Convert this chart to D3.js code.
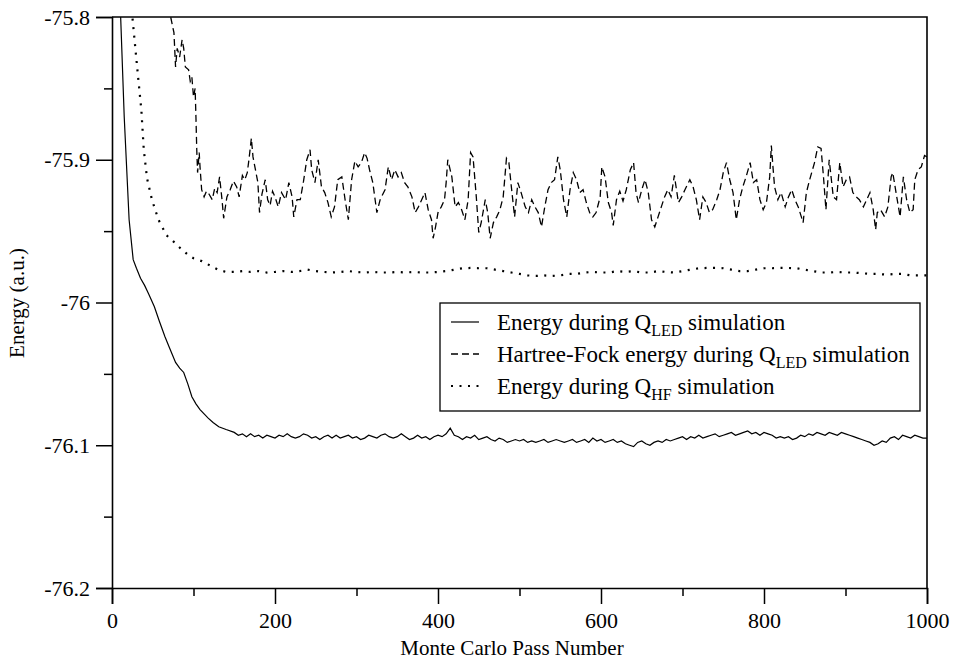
<!DOCTYPE html>
<html>
<head>
<meta charset="utf-8">
<script src="https://cdn.jsdelivr.net/npm/d3@7"></script>
<style>
  body { margin: 0; background: #fff; }
  svg text { font-family: "Liberation Serif", "Times New Roman", serif; fill: #000; }
</style>
</head>
<body>
<svg id="main-svg" width="956" height="660"></svg>
<script>
// Energy during Q_LED simulation (solid)
var passLED = [0, 5, 10, 15, 21, 26, 30, 35, 40, 45, 52, 58, 65, 70, 78, 83, 88, 93, 98, 103, 108, 113, 118, 124, 131, 140,
  150, 155, 160, 165, 170, 175, 180, 185, 190, 195, 200, 205, 210, 215, 220, 225, 230, 235, 240, 245,
  250, 255, 260, 265, 270, 275, 280, 285, 290, 295, 300, 305, 310, 315, 320, 325, 330, 335, 340, 345,
  350, 355, 360, 365, 370, 375, 380, 385, 390, 395, 400, 405, 410, 415, 420, 425, 430, 435, 440, 445,
  450, 455, 460, 465, 470, 475, 480, 485, 490, 495, 500, 505, 510, 515, 520, 525, 530, 535, 540, 545,
  550, 555, 560, 565, 570, 575, 580, 585, 590, 595, 600, 605, 610, 615, 620, 625, 630, 635, 640, 645,
  650, 655, 660, 665, 670, 675, 680, 685, 690, 695, 700, 705, 710, 715, 720, 725, 730, 735, 740, 745,
  750, 755, 760, 765, 770, 775, 780, 785, 790, 795, 800, 805, 810, 815, 820, 825, 830, 835, 840, 845,
  850, 855, 860, 865, 870, 875, 880, 885, 890, 895, 900, 905, 910, 915, 920, 925, 930, 935, 940, 945,
  950, 955, 960, 965, 970, 975, 980, 985, 990, 995, 1000];
var energyLED = [-75.40, -75.62, -75.79, -75.87, -75.942, -75.970, -75.976, -75.983, -75.988, -75.994, -76.003, -76.013, -76.024,
  -76.031, -76.042, -76.046, -76.049, -76.057, -76.066, -76.071, -76.075, -76.078, -76.081, -76.084, -76.087, -76.089,
  -76.091, -76.093, -76.092, -76.094, -76.092, -76.094, -76.093, -76.095, -76.093, -76.094, -76.095, -76.093, -76.094, -76.092,
  -76.094, -76.095, -76.094, -76.092, -76.093, -76.095,
  -76.094, -76.096, -76.094, -76.093, -76.095, -76.093, -76.095, -76.094, -76.093, -76.095, -76.094, -76.096, -76.095, -76.093,
  -76.094, -76.095, -76.093, -76.092, -76.094, -76.095,
  -76.094, -76.092, -76.094, -76.096, -76.095, -76.093, -76.095, -76.094, -76.096, -76.094, -76.093, -76.094, -76.092, -76.088,
  -76.093, -76.094, -76.096, -76.094, -76.095, -76.093,
  -76.096, -76.095, -76.094, -76.096, -76.097, -76.095, -76.096, -76.098, -76.097, -76.096, -76.097, -76.096, -76.098, -76.097,
  -76.098, -76.097, -76.096, -76.098, -76.097, -76.096,
  -76.097, -76.098, -76.097, -76.096, -76.098, -76.097, -76.096, -76.098, -76.095, -76.097, -76.096, -76.098, -76.097, -76.096,
  -76.098, -76.097, -76.099, -76.100, -76.101, -76.098,
  -76.097, -76.099, -76.100, -76.098, -76.097, -76.098, -76.096, -76.097, -76.096, -76.095, -76.094, -76.096, -76.094, -76.095,
  -76.093, -76.095, -76.094, -76.093, -76.092, -76.094,
  -76.093, -76.092, -76.091, -76.093, -76.092, -76.091, -76.090, -76.092, -76.091, -76.093, -76.091, -76.092, -76.093, -76.095,
  -76.094, -76.095, -76.094, -76.096, -76.095, -76.093,
  -76.094, -76.092, -76.093, -76.091, -76.092, -76.093, -76.091, -76.092, -76.093, -76.091, -76.092, -76.093, -76.094, -76.095,
  -76.096, -76.097, -76.098, -76.100, -76.099, -76.097,
  -76.098, -76.095, -76.094, -76.096, -76.093, -76.094, -76.095, -76.093, -76.094, -76.095, -76.095];

// Hartree-Fock energy during Q_LED simulation (dashed)
var passHFLED = [0, 40, 60, 68, 72, 76, 78, 80, 83, 86, 88, 90, 94, 96, 98, 100, 102, 103, 104, 105, 107, 108, 110, 113, 116, 119,
  123, 126, 129, 132, 135, 137, 141, 145, 149, 153, 156, 160, 163, 166, 168, 171, 173, 176, 179, 181, 184, 188, 191, 194, 197,
  200, 204, 208, 213, 217, 221, 223, 227, 231, 235, 239, 243, 245, 249, 253, 257, 261, 265, 269, 273, 277, 282, 286, 290, 294,
  298, 302, 306, 310, 313, 316, 320, 325, 329, 335, 339, 343, 347, 351, 355, 359, 363, 368, 372, 376, 380, 384, 388, 392, 394,
  397, 400, 404, 408, 410, 412, 417, 421, 425, 429, 433, 437, 440, 443, 447, 450, 453, 458, 461, 464, 468, 472, 476, 480, 484,
  487, 490, 494, 498, 502, 507, 511, 515, 519, 523, 527, 531, 535, 539, 543, 547, 550, 554, 558, 562, 566, 570, 574, 578, 582,
  586, 590, 594, 599, 601, 605, 609, 613, 615, 619, 623, 627, 631, 636, 640, 643, 646, 650, 654, 658, 662, 666, 670, 674, 678,
  682, 686, 690, 695, 699, 703, 709, 713, 717, 721, 725, 729, 733, 737, 742, 746, 750, 754, 758, 762, 766, 770, 774, 778, 783,
  787, 791, 795, 799, 803, 807, 809, 811, 813, 817, 821, 826, 830, 834, 838, 842, 848, 852, 856, 862, 866, 870, 873, 876, 880,
  885, 889, 893, 897, 901, 905, 909, 913, 917, 922, 926, 930, 934, 937, 939, 943, 948, 952, 956, 958, 962, 967, 971, 975, 979,
  983, 985, 989, 993, 997, 1000];
var hfLED = [-75.0, -75.5, -75.72, -75.790, -75.800, -75.811, -75.835, -75.822, -75.828, -75.816, -75.822, -75.835, -75.837,
  -75.845, -75.842, -75.856, -75.850, -75.870, -75.893, -75.909, -75.895, -75.905, -75.921, -75.926, -75.922, -75.924,
  -75.928, -75.920, -75.923, -75.912, -75.928, -75.941, -75.926, -75.921, -75.915, -75.919, -75.926, -75.911, -75.914, -75.909,
  -75.900, -75.885, -75.898, -75.907, -75.916, -75.937, -75.924, -75.914, -75.928, -75.932, -75.922,
  -75.926, -75.933, -75.923, -75.928, -75.916, -75.926, -75.940, -75.928, -75.928, -75.915, -75.900, -75.893, -75.907, -75.916,
  -75.900, -75.919, -75.923, -75.930, -75.940, -75.933, -75.914, -75.912, -75.928, -75.942, -75.914,
  -75.901, -75.905, -75.902, -75.895, -75.899, -75.907, -75.916, -75.937, -75.928, -75.921, -75.905, -75.914, -75.907, -75.912,
  -75.909, -75.916, -75.919, -75.926, -75.937, -75.933, -75.928, -75.923, -75.935, -75.942, -75.955,
  -75.947, -75.937, -75.933, -75.928, -75.916, -75.900, -75.912, -75.933, -75.930, -75.935, -75.942, -75.928, -75.895, -75.898,
  -75.926, -75.951, -75.944, -75.928, -75.937, -75.955, -75.944, -75.940, -75.935, -75.926, -75.899,
  -75.902, -75.919, -75.940, -75.916, -75.923, -75.933, -75.937, -75.928, -75.933, -75.937, -75.947, -75.933, -75.921, -75.916,
  -75.914, -75.898, -75.907, -75.928, -75.940, -75.921, -75.909, -75.914, -75.923, -75.921, -75.930,
  -75.937, -75.940, -75.937, -75.926, -75.905, -75.912, -75.930, -75.937, -75.946, -75.928, -75.922, -75.929, -75.921, -75.907,
  -75.902, -75.923, -75.930, -75.921, -75.914, -75.923, -75.942, -75.947, -75.940, -75.933, -75.926,
  -75.921, -75.926, -75.911, -75.930, -75.926, -75.921, -75.914, -75.919, -75.928, -75.942, -75.926, -75.930, -75.937, -75.935,
  -75.928, -75.921, -75.909, -75.902, -75.914, -75.923, -75.942, -75.928, -75.919, -75.912, -75.902,
  -75.916, -75.914, -75.928, -75.935, -75.930, -75.912, -75.890, -75.905, -75.919, -75.928, -75.923, -75.933, -75.926, -75.921,
  -75.928, -75.933, -75.944, -75.923, -75.914, -75.902, -75.891, -75.892, -75.912, -75.935, -75.900,
  -75.926, -75.928, -75.902, -75.919, -75.914, -75.912, -75.923, -75.926, -75.928, -75.933, -75.928, -75.923, -75.935, -75.949,
  -75.937, -75.935, -75.940, -75.933, -75.912, -75.909, -75.923, -75.940, -75.912, -75.928, -75.937,
  -75.935, -75.914, -75.907, -75.905, -75.897, -75.898];

// Energy during Q_HF simulation (dotted)
var passHF = [0, 10, 20, 25, 28, 32, 36, 39, 43, 49, 57, 67, 75, 82, 88, 94, 100, 110, 120, 130, 140, 150,
  160, 170, 180, 190, 200, 210, 220, 230, 240, 250, 260, 270, 280, 290, 300, 310, 320, 330, 340, 350, 360, 370, 380, 390,
  400, 410, 420, 430, 440, 450, 460, 470, 480, 490, 500, 510, 520, 530, 540, 550, 560, 570, 580, 590, 600, 610, 620, 630,
  640, 650, 660, 670, 680, 690, 700, 710, 720, 730, 740, 750, 760, 770, 780, 790, 800, 810, 820, 830, 840, 850, 860, 870,
  880, 890, 900, 910, 920, 930, 940, 950, 960, 970, 980, 990, 1000];
var energyHF = [-75.2, -75.55, -75.74, -75.800, -75.818, -75.842, -75.865, -75.893, -75.913, -75.928, -75.942, -75.953,
  -75.957, -75.961, -75.964, -75.967, -75.969, -75.971, -75.974, -75.977, -75.9786, -75.9786,
  -75.978, -75.9786, -75.978, -75.979, -75.9786, -75.978, -75.9786, -75.978, -75.977, -75.978, -75.9786, -75.979, -75.9786,
  -75.978, -75.9786, -75.979, -75.9786, -75.979, -75.979, -75.9786, -75.979, -75.9786, -75.979, -75.979,
  -75.9786, -75.978, -75.977, -75.976, -75.9758, -75.976, -75.976, -75.977, -75.978, -75.979, -75.980, -75.981, -75.9814,
  -75.981, -75.9814, -75.981, -75.980, -75.980, -75.979, -75.9786, -75.979, -75.979, -75.978, -75.9786,
  -75.978, -75.979, -75.979, -75.978, -75.9786, -75.979, -75.978, -75.977, -75.976, -75.9758, -75.9758, -75.976, -75.977,
  -75.978, -75.978, -75.977, -75.976, -75.976, -75.9758, -75.9758, -75.976, -75.977, -75.978, -75.979,
  -75.979, -75.9786, -75.979, -75.979, -75.9795, -75.980, -75.980, -75.9805, -75.980, -75.980, -75.981, -75.981, -75.981];

var xTicks = [0, 200, 400, 600, 800, 1000];
var xMinor = [100, 300, 500, 700, 900];
var yTicks = [-75.8, -75.9, -76, -76.1, -76.2];
var yMinor = [-75.85, -75.95, -76.05, -76.15];

var svg = d3.select('#main-svg');
var plotLeft = 112, plotRight = 927, plotTop = 17, plotBottom = 588;

var x = d3.scaleLinear().domain([0, 1000]).range([plotLeft, plotRight]);
var y = d3.scaleLinear().domain([-76.2, -75.8]).range([plotBottom, plotTop]);

svg.append('clipPath').attr('id', 'plot-clip')
  .append('rect').attr('x', plotLeft).attr('y', plotTop)
  .attr('width', plotRight - plotLeft).attr('height', plotBottom - plotTop);

function zip(px, vals) {
  return px.map(function(p, i) { return [p, vals[i]]; });
}

var line = d3.line().x(function(d) { return x(d[0]); }).y(function(d) { return y(d[1]); });
var lines = svg.append('g').attr('clip-path', 'url(#plot-clip)');

lines.append('path').datum(zip(passHF, energyHF))
  .attr('d', line).attr('fill', 'none').attr('stroke', '#000')
  .attr('stroke-width', 2.2).attr('stroke-dasharray', '2,6.5');
lines.append('path').datum(zip(passHFLED, hfLED))
  .attr('d', line).attr('fill', 'none').attr('stroke', '#000')
  .attr('stroke-width', 1.3).attr('stroke-dasharray', '7,4');
lines.append('path').datum(zip(passLED, energyLED))
  .attr('d', line).attr('fill', 'none').attr('stroke', '#000')
  .attr('stroke-width', 1.2);

// bottom axis with long major and short minor ticks
svg.append('g').attr('transform', 'translate(0,' + plotBottom + ')')
  .call(d3.axisBottom(x).tickValues(xTicks).tickSize(16).tickPadding(8).tickFormat(d3.format('d')));
svg.append('g').attr('transform', 'translate(0,' + plotBottom + ')')
  .call(d3.axisBottom(x).tickValues(xMinor).tickSize(8).tickFormat(''))
  .select('.domain').remove();

svg.append('g').attr('transform', 'translate(' + plotLeft + ',0)')
  .call(d3.axisLeft(y).tickValues(yTicks).tickSize(16).tickPadding(6).tickFormat(function(d) { return String(d); }));
svg.append('g').attr('transform', 'translate(' + plotLeft + ',0)')
  .call(d3.axisLeft(y).tickValues(yMinor).tickSize(8).tickFormat(''))
  .select('.domain').remove();

svg.selectAll('.domain').attr('stroke-width', 1.6);
svg.selectAll('.tick line').attr('stroke-width', 1.5);
svg.selectAll('.tick text').style('font-size', '22px').style('font-family', '"Liberation Serif", serif');

// closing frame on top and right
svg.append('path')
  .attr('d', 'M' + plotLeft + ',' + plotTop + 'H' + plotRight + 'V' + plotBottom)
  .attr('fill', 'none').attr('stroke', '#000').attr('stroke-width', 1.6);

svg.append('text').attr('x', 512).attr('y', 655).attr('text-anchor', 'middle')
  .style('font-size', '21px').text('Monte Carlo Pass Number');
svg.append('text').attr('transform', 'translate(24,303) rotate(-90)').attr('text-anchor', 'middle')
  .style('font-size', '21px').text('Energy (a.u.)');

// legend
var legendNames = [['Energy during Q', 'LED', ' simulation'],
  ['Hartree-Fock energy during Q', 'LED', ' simulation'],
  ['Energy during Q', 'HF', ' simulation']];
var legendDash = [null, '7,4', '2,6.5'];
var legendWidth = [1.2, 1.3, 2.2];

var legend = svg.append('g');
legend.append('rect').attr('x', 440).attr('y', 303).attr('width', 480).attr('height', 108)
  .attr('fill', '#fff').attr('stroke', '#000').attr('stroke-width', 1.3);

legendNames.forEach(function(name, i) {
  var cy = 322 + i * 32;
  legend.append('line').attr('x1', 451).attr('x2', 479).attr('y1', cy).attr('y2', cy)
    .attr('stroke', '#000').attr('stroke-width', legendWidth[i])
    .attr('stroke-dasharray', legendDash[i]);
  var t = legend.append('text').attr('x', 497).attr('y', cy + 8).style('font-size', '23px');
  t.append('tspan').text(name[0]);
  t.append('tspan').attr('dy', 6).style('font-size', '16px').text(name[1]);
  t.append('tspan').attr('dy', -6).text(name[2]);
});
</script>
</body>
</html>
